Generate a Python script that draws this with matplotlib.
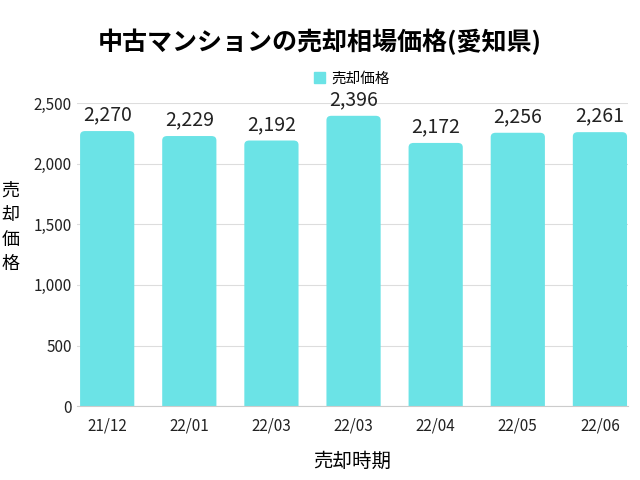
import matplotlib.pyplot as plt
from matplotlib.patches import FancyBboxPatch, Patch
from matplotlib.ticker import FuncFormatter

plt.rcParams['font.family'] = ['Noto Sans CJK JP', 'DejaVu Sans']

kikan = ['21/12', '22/01', '22/03', '22/03', '22/04', '22/05', '22/06']
kakaku = [2270, 2229, 2192, 2396, 2172, 2256, 2261]
iro = '#6be3e6'

fig = plt.figure(figsize=(6.4, 4.8), dpi=100)
ax = fig.add_axes([0.12, 0.154, 0.861, 0.631])

haba = 0.66
for i, v in enumerate(kakaku):
    # 上の角だけ丸く見せるため下端は0より下から描く
    bou = FancyBboxPatch((i - haba / 2, -60), haba, v + 60,
                         boxstyle='round,pad=0,rounding_size=0.06',
                         mutation_aspect=600, facecolor=iro, edgecolor='none',
                         zorder=2, clip_on=True)
    ax.add_patch(bou)
    ax.text(i, v + 45, f'{v:,}', ha='center', va='bottom', fontsize=14, color='#222222')

ax.set_xlim(-0.37, 6.34)
ax.set_ylim(0, 2500)
ax.set_xticks(range(len(kikan)))
ax.set_xticklabels(kikan)
ax.set_yticks([0, 500, 1000, 1500, 2000, 2500])
ax.yaxis.set_major_formatter(FuncFormatter(lambda v, p: f'{int(v):,}'))
ax.tick_params(axis='both', length=0, labelsize=11, colors='#222222')
ax.tick_params(axis='x', pad=8)
ax.grid(axis='y', color='#dddddd', linewidth=0.8, zorder=0)
for s in ['top', 'right', 'left']:
    ax.spines[s].set_visible(False)
ax.spines['bottom'].set_color('#cccccc')

ax.set_xlabel('売却時期', fontsize=14, labelpad=12)
ax.set_ylabel('売\n却\n価\n格', fontsize=13, rotation=0, va='center', linespacing=1.45)
ax.yaxis.set_label_coords(-0.12, 0.59)

fig.suptitle('中古マンションの売却相場価格(愛知県)', fontsize=18, fontweight='bold', y=0.94)
ax.legend(handles=[Patch(color=iro, label='売却価格')], loc='lower center',
          bbox_to_anchor=(0.5, 1.015), frameon=False, fontsize=10.5,
          handlelength=0.7, handleheight=0.7, handletextpad=0.5)

fig.savefig('out.png', dpi=100)
